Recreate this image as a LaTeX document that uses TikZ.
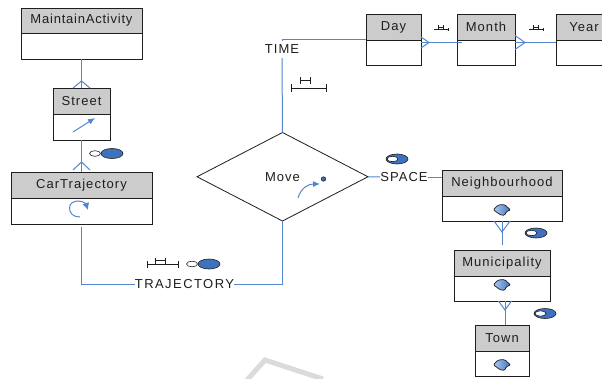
\documentclass[tikz,border=0pt]{standalone}
\usepackage{fontspec}
\setmainfont[LetterSpace=8]{Liberation Sans}
\usetikzlibrary{shapes.geometric,arrows.meta,calc}
\definecolor{lnk}{RGB}{84,135,205}
\definecolor{hd}{RGB}{204,204,204}
\definecolor{ov}{RGB}{62,114,190}
\definecolor{blob}{RGB}{120,170,230}
\definecolor{ink}{RGB}{30,30,30}
\tikzset{
  x=1pt,y=-1pt,
  lbl/.style={font=\fontsize{13}{15}\selectfont,text=ink,inner sep=0pt},
  bxo/.style={draw=ink,line width=0.95pt,fill=white,inner sep=0pt,outer sep=0pt},
  bxh/.style={draw=ink,line width=0.95pt,fill=hd},
  link/.style={draw=lnk,line width=1pt},
  tick/.style={draw=ink,line width=0.8pt},
  icn/.style={lnk,line width=1pt},
}
\newcommand{\ebox}[7]{% name,x0,x1,y0,ydiv,y1,label
  \node[bxo,minimum width={(#3-#2)*1pt},minimum height={(#6-#4)*1pt}] (#1) at ({(#2+#3)/2},{(#4+#6)/2}) {};
  \draw[bxh] (#2,#4) rectangle (#3,#5);
  \node[lbl] (#1t) at ({(#2+#3)/2},{(#4+#5)/2}) {#7};
}
\newcommand{\crowup}[3]{% tip above anchor
  \draw[link] ($(#1)+(-#2,0)$) -- ($(#1)+(0,-#3)$) -- ($(#1)+(#2,0)$);}
\newcommand{\crowdown}[3]{% tip below anchor
  \draw[link] ($(#1)+(-#2,0)$) -- ($(#1)+(0,#3)$) -- ($(#1)+(#2,0)$);}
\newcommand{\chevron}[3]{% opens on anchor, tip to the right, half height, length
  \draw[link] ($(#1)+(0,3-#2)$) -- ($(#1)+(#3,3)$) -- ($(#1)+(0,3+#2)$);}
\newcommand{\blobicon}[2]{%
  \begin{scope}[shift={(#1,#2)}]
    \draw[draw=ink,line width=0.7pt,left color=blob!60!white,right color=ov,rounded corners=1.5pt]
      (-9,0) -- (-4,-5) -- (3,-5.5) -- (6,-2) -- (9,0) -- (4,1.5) -- (3,5.5) -- (-3,4.5) -- (-5,2) -- cycle;
  \end{scope}}
\newcommand{\ringicon}[2]{%
  \begin{scope}[shift={(#1,#2)}]
    \draw[draw=ink,line width=0.6pt,fill=ov] (0,0) ellipse [x radius=11,y radius=5];
    \draw[draw=ink,line width=0.6pt,fill=white] (-4.5,0) ellipse [x radius=5.5,y radius=2.7];
  \end{scope}}
\newcommand{\lollipop}[2]{%
  \begin{scope}[shift={(#1,#2)}]
    \draw[draw=ink,line width=0.6pt,fill=white] (-17,0) ellipse [x radius=5.5,y radius=2.8];
    \draw[draw=ink,line width=0.6pt,fill=ov] (0,0) ellipse [x radius=11,y radius=5];
  \end{scope}}
\begin{document}
\begin{tikzpicture}
\useasboundingbox (0,0) rectangle (602,378);
\fill[white] (0,0) rectangle (602,378);
% watermark
\draw[black!14,line width=5pt] (247,380) -- (265,360) -- (323,379);
% entities
\ebox{ma}{21}{142}{8}{33}{59}{\addfontfeature{LetterSpace=6}MaintainActivity}
\ebox{st}{53}{110}{88}{114}{140}{Street}
\ebox{ct}{11}{152}{172}{198}{224}{CarTrajectory}
\ebox{dy}{366}{421}{14}{40}{65}{Day}
\ebox{mo}{457}{515}{14}{40}{65}{Month}
\ebox{ye}{556}{612}{14}{40}{65}{Year}
\ebox{ne}{442}{562}{170}{196}{221}{Neighbourhood}
\ebox{mu}{454}{550}{250}{276}{301}{Municipality}
\ebox{to}{475}{529}{325}{351}{376.5}{Town}
% fact relationship and role labels
\node[diamond,draw=ink,line width=0.8pt,fill=white,inner sep=0pt,outer sep=0pt,minimum width=171pt,minimum height=88.5pt,lbl] (mv) at (282.5,176.75) {Move};
\node[lbl,inner ysep=4pt] (tim) at (282,49.5) {TIME};
\node[lbl] (spc) at (404,177) {SPACE};
\node[lbl] (trj) at (184.5,284.5) {\addfontfeature{LetterSpace=11}TRAJECTORY};
% connectors
\draw[link] (ma.south) -- (st.north);
\crowup{st.north}{8.5}{7}
\draw[link] (st.south) -- (ct.north);
\crowup{$(ct.north)+(0,-2)$}{8.5}{8}
\draw[link] (mv.north) -- (tim.south);
\draw[link] (tim.north) |- (dy.west);
\draw[link] (mv.east) -- (spc.west);
\draw[link] (spc.east) -- (spc.east -| ne.west);
\draw[link] ($(ct.south)+(0,3)$) |- (trj.west);
\draw[link] (trj.east) -| (mv.south);
\draw[link] ($(dy.east)+(0,3)$) -- ($(mo.west)+(5,3)$);
\chevron{dy.east}{5.5}{8}
\draw[link] ($(mo.east)+(0,3)$) -- ($(ye.west)+(0,3)$);
\chevron{mo.east}{7}{10}
\draw[link] (ne.south) -- ($(mu.north)+(0,-5)$);
\crowdown{ne.south}{8}{11}
\draw[link] ($(mu.south)+(3,0)$) -- ($(to.north)+(3,0)$);
\crowdown{$(mu.south)+(3,0)$}{6.5}{9}
% spatial and temporal icons
\draw[icn,-{Latex[length=7pt,width=6pt]}] (73,132) -- (95,118);
\draw[icn,-{Latex[length=7pt,width=7pt]}] (80,217) .. controls (73,217) and (69.5,213) .. (69.5,208) .. controls (69.5,203) and (74,201) .. (78,201) .. controls (83,201) and (86,204) .. (88,210);
\draw[icn,-{Latex[length=7pt,width=6pt]}] (298,198) .. controls (301,188) and (308,184) .. (320,184);
\draw[ink,line width=0.6pt,fill=ov] (323.5,179) circle (2.2);
\lollipop{112}{153.5}
\lollipop{209}{264}
\ringicon{397}{159}
\ringicon{536}{233}
\ringicon{545}{313.5}
\blobicon{502}{210}
\blobicon{502}{285}
\blobicon{502}{365}
% time ticks
\draw[tick] (291,88) -- (326,88);
\draw[tick] (291,84) -- (291,92);
\draw[tick] (326,84) -- (326,92);
\draw[tick] (300,80.5) -- (310,80.5);
\draw[tick] (300,77) -- (300,84);
\draw[tick] (310,77) -- (310,84);
\draw[tick] (147,264.5) -- (178,264.5);
\draw[tick] (147,261) -- (147,268);
\draw[tick] (178,261) -- (178,268);
\draw[tick] (155,260) -- (165,260);
\draw[tick] (155,258) -- (155,264.5);
\draw[tick] (165,258) -- (165,264.5);
\draw[tick] (434,29.5) -- (448,29.5);
\draw[tick] (448,28) -- (448,31);
\draw[tick] (438,25) -- (438,29.5);
\draw[tick] (443,25) -- (443,29.5);
\draw[tick] (438,27) -- (443,27);
\draw[tick] (529,29.5) -- (543,29.5);
\draw[tick] (543,28) -- (543,31);
\draw[tick] (533,25) -- (533,29.5);
\draw[tick] (538,25) -- (538,29.5);
\draw[tick] (533,27) -- (538,27);
\end{tikzpicture}
\end{document}
